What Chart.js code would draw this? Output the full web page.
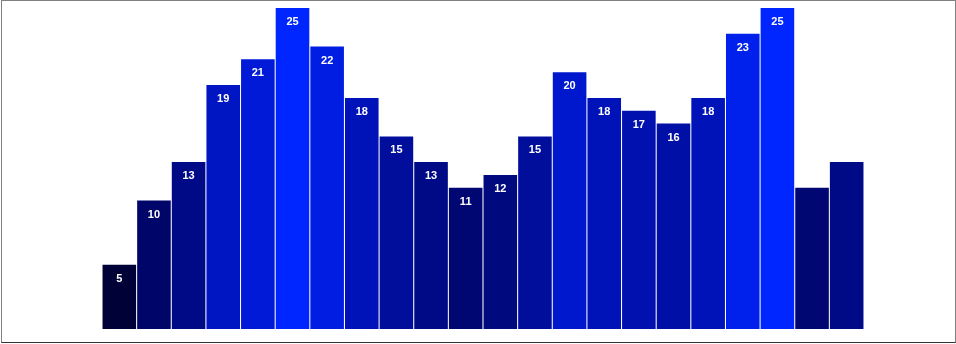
<!DOCTYPE html>
<html>
<head>
<meta charset="utf-8">
<script src="https://cdn.jsdelivr.net/npm/chart.js@4/dist/chart.umd.min.js"></script>
<style>
  html, body { margin: 0; padding: 0; background: #fff; }
  #wrap { position: absolute; left: 0; top: 0; width: 956px; height: 344px; }
  #frame { position: absolute; left: 1px; top: 0; width: 953px; height: 341px; border: 1px solid #808080; border-bottom-color: #333; pointer-events: none; }
</style>
</head>
<body>
<div id="wrap">
  <canvas id="chart" width="956" height="344"></canvas>
  <div id="frame"></div>
</div>
<script>
// ---- data ----
const categories = ["1","2","3","4","5","6","7","8","9","10","11","12","13","14","15","16","17","18","19","20","21","22"];
const values = [5, 10, 13, 19, 21, 25, 22, 18, 15, 13, 11, 12, 15, 20, 18, 17, 16, 18, 23, 25, 11, 13];
// last two bars have no label in the reference
const valueLabels = [5, 10, 13, 19, 21, 25, 22, 18, 15, 13, 11, 12, 15, 20, 18, 17, 16, 18, 23, 25, null, null];

// blue intensity follows the value (small green tint like the screenshot)
const barColors = values.map(v =>
  "rgb(0, " + Math.round(v * v * 0.06) + ", " + Math.min(255, v * 10 + 5) + ")");

// ---- labels inside bars ----
const barLabels = {
  id: "barLabels",
  afterDatasetsDraw(chart) {
    const ctx = chart.ctx;
    const meta = chart.getDatasetMeta(0);
    ctx.save();
    ctx.fillStyle = "#fff";
    ctx.font = "bold 11px 'Liberation Sans', Arial, sans-serif";
    ctx.textAlign = "center";
    ctx.textBaseline = "middle";
    meta.data.forEach((bar, i) => {
      if (valueLabels[i] == null) return;
      ctx.fillText(String(valueLabels[i]), bar.x, bar.y + 14);
    });
    ctx.restore();
  }
};

new Chart(document.getElementById("chart"), {
  type: "bar",
  data: {
    labels: categories,
    datasets: [{
      data: values,
      backgroundColor: barColors,
      barPercentage: 0.97,
      categoryPercentage: 1
    }]
  },
  options: {
    responsive: false,
    animation: false,
    layout: { padding: { left: 102, right: 92, top: 8, bottom: 15 } },
    plugins: { legend: { display: false }, tooltip: { enabled: false } },
    scales: {
      x: { display: false },
      y: { display: false, min: 0, max: 25 }
    }
  },
  plugins: [barLabels]
});
</script>
</body>
</html>
